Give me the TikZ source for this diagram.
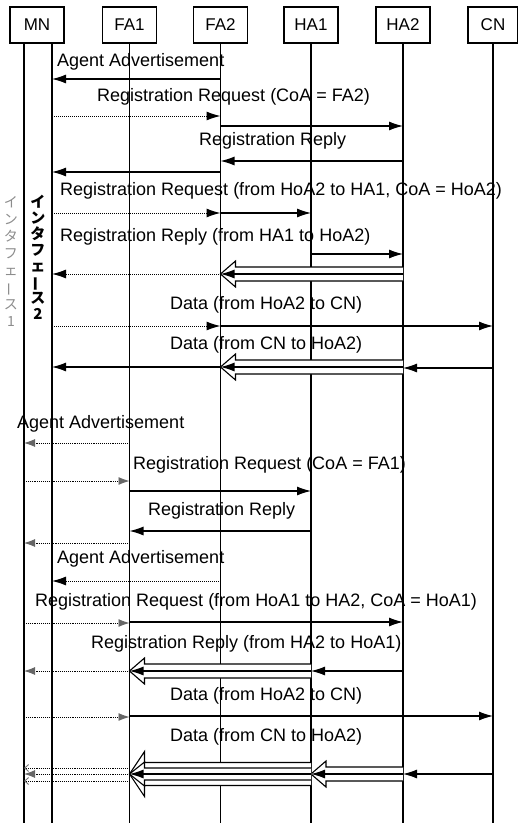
\documentclass[tikz,border=0pt]{standalone}
\usepackage{fontspec}
\setmainfont{Liberation Sans}
\newfontfamily\jafont{Noto Sans CJK JP}
\usepackage{graphicx}
\usetikzlibrary{arrows.meta, calc}

% message between two lifelines at height #3
\newcommand\msg[4]{\draw[#4] (#1 |- 0,#3) -- (#2 |- 0,#3);}
% hollow tunnel arrow: from, to, height, body half width, head half width
\newcommand\tunnel[5]{%
  \path (#1 |- 0,#3) coordinate (t-r) (#2 |- 0,#3) coordinate (t-l);
  \draw[tube] ($(t-r)+(0,-#4)$) -- ($(t-l)+(15,-#4)$) -- ($(t-l)+(15,-#5)$) -- (t-l)
    -- ($(t-l)+(15,#5)$) -- ($(t-l)+(15,#4)$) -- ($(t-r)+(0,#4)$);}

\begin{document}
\begin{tikzpicture}[x=1pt, y=-1pt,
    >={Latex[length=14pt,width=9pt]}, % Default arrow tip
    entity/.style={draw, line width=1.1pt, minimum width=54pt, minimum height=36pt, inner sep=0pt, font=\fontsize{17}{19}\selectfont}, % Header boxes
    life/.style={line width=1.1pt}, % Lifelines
    wire/.style={line width=1.1pt, ->}, % Solid messages
    radio/.style={line width=1pt, densely dotted, -{Latex[length=14pt,width=9pt]}}, % Interface 2 link
    faint/.style={line width=0.9pt, densely dotted, -{Latex[length=11pt,width=8pt,black!60]}}, % Interface 1 link
    tick/.style={line width=0.9pt, densely dotted, -{Straight Barb[length=4pt,width=7pt,black!55]}}, % Side lines of interface 1 data
    tube/.style={line width=1.1pt, fill=white}, % Tunnel outline
    msglabel/.style={anchor=west, inner sep=0pt, font=\fontsize{18}{20}\selectfont}, % Message labels
    vtext/.style={align=center, inner sep=0pt, font=\jafont\fontsize{15}{16}\selectfont} % Vertical labels
]
    \useasboundingbox (0,0) rectangle (518,825);

    % Entities
    \node[entity] (MN) at (37,25) {MN};
    \node[entity] (FA1) at (129.5,25) {FA1};
    \node[entity] (FA2) at (220.5,25) {FA2};
    \node[entity] (HA1) at (311,25) {HA1};
    \node[entity] (HA2) at (403,25) {HA2};
    \node[entity, minimum width=50pt] (CN) at (493,25) {CN};

    % Lifelines (MN has two interfaces)
    \coordinate (if1) at (24,43);
    \coordinate (if2) at (52,43);
    \coordinate (end) at (0,823);
    \foreach \n in {if1, if2, FA1, FA2, HA1, HA2, CN}
        \draw[life] (\n |- 0,43) -- (\n |- end);

    % Interface labels
    \node[vtext, font=\jafont\bfseries\fontsize{15}{16}\selectfont] (iface2) at (38,257)
        {イ\\ン\\タ\\フ\\ェ\\\rotatebox[origin=c]{90}{ー}\\ス\\2};
    \node[vtext, text=black!45, font=\jafont\fontsize{14}{17}\selectfont] (iface1) at (11,262)
        {イ\\ン\\タ\\フ\\ェ\\\rotatebox[origin=c]{90}{ー}\\ス\\1};

    % Handover to FA2 over interface 2
    \node[msglabel] (l1) at (57,62) {Agent Advertisement};
    \msg{FA2}{if2}{79}{wire}
    \node[msglabel] (l2) at (97,97) {Registration Request (CoA = FA2)};
    \msg{if2}{FA2}{116}{radio}
    \msg{FA2}{HA2}{126}{wire}
    \node[msglabel] (l3) at (199,141) {Registration Reply};
    \msg{HA2}{FA2}{161}{wire}
    \msg{FA2}{if2}{172}{wire}
    \node[msglabel] (l4) at (60,191) {Registration Request (from HoA2 to HA1, CoA = HoA2)};
    \msg{if2}{FA2}{213}{radio}
    \msg{FA2}{HA1}{213}{wire}
    \node[msglabel] (l5) at (60,237) {Registration Reply (from HA1 to HoA2)};
    \msg{HA1}{HA2}{254}{wire}
    \tunnel{HA2}{FA2}{274}{7}{13}
    \msg{HA2}{FA2}{274}{wire}
    \msg{FA2}{if2}{274}{radio}
    \node[msglabel] (l6) at (170,305) {Data (from HoA2 to CN)};
    \msg{if2}{FA2}{326}{radio}
    \msg{FA2}{CN}{326}{wire}
    \node[msglabel] (l7) at (170,345) {Data (from CN to HoA2)};
    \msg{CN}{HA2}{368}{wire}
    \tunnel{HA2}{FA2}{367}{7}{13}
    \msg{HA2}{FA2}{367}{wire}
    \msg{FA2}{if2}{367}{wire}

    % Handover to FA1 over interface 1
    \node[msglabel] (l8) at (17,424) {Agent Advertisement};
    \msg{FA1}{if1}{443}{faint}
    \node[msglabel] (l9) at (133,465) {Registration Request (CoA = FA1)};
    \msg{if1}{FA1}{481}{faint}
    \msg{FA1}{HA1}{491}{wire}
    \node[msglabel] (l10) at (148,511) {Registration Reply};
    \msg{HA1}{FA1}{531}{wire}
    \msg{FA1}{if1}{543}{faint}
    \node[msglabel] (l11) at (57,559) {Agent Advertisement};
    \msg{FA2}{if2}{581}{radio}
    \node[msglabel] (l12) at (35,602) {Registration Request (from HoA1 to HA2, CoA = HoA1)};
    \msg{if1}{FA1}{623}{faint}
    \msg{FA1}{HA2}{622}{wire}
    \node[msglabel] (l13) at (91,644) {Registration Reply (from HA2 to HoA1)};
    \msg{HA2}{HA1}{671}{wire}
    \tunnel{HA1}{FA1}{671}{7}{13}
    \msg{HA1}{FA1}{671}{wire}
    \msg{FA1}{if1}{671}{faint}
    \node[msglabel] (l14) at (170,696) {Data (from HoA2 to CN)};
    \msg{if1}{FA1}{717}{faint}
    \msg{FA1}{CN}{716}{wire}
    \node[msglabel] (l15) at (170,737) {Data (from CN to HoA2)};
    \msg{CN}{HA2}{774}{wire}
    \tunnel{HA2}{HA1}{774}{7}{13}
    \msg{HA2}{HA1}{774}{wire}
    \tunnel{HA1}{FA1}{774}{11.5}{22.5}
    \tunnel{HA1}{FA1}{774}{6}{12}
    \msg{HA1}{FA1}{774}{wire}
    \msg{FA1}{if1}{768}{tick}
    \msg{FA1}{if1}{774}{faint}
    \msg{FA1}{if1}{781}{tick}
\end{tikzpicture}
\end{document}
